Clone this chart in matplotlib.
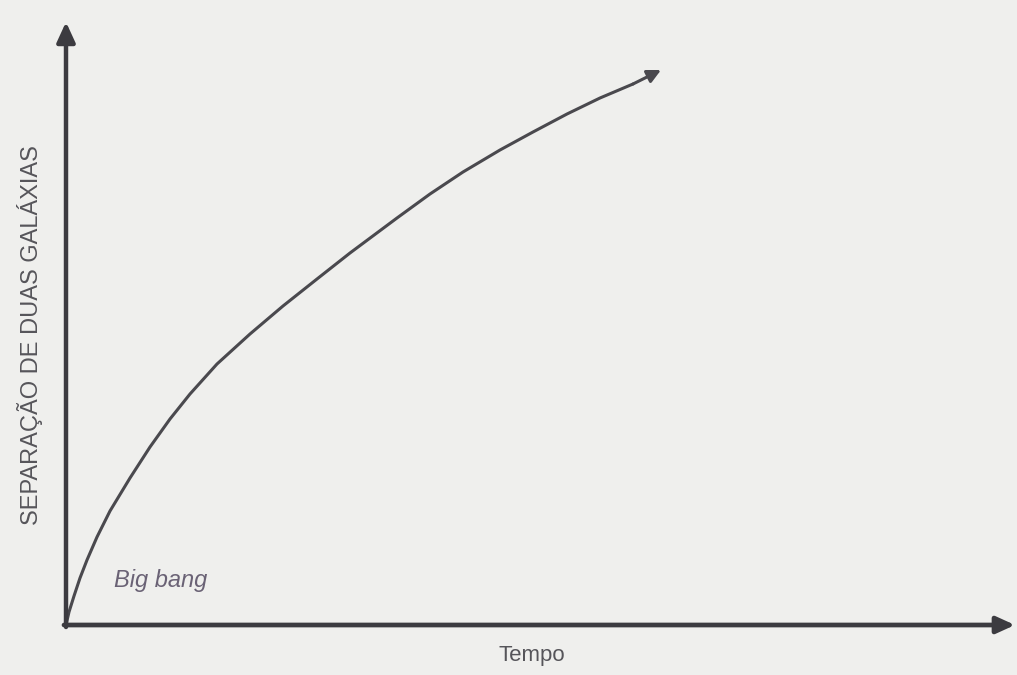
import matplotlib.pyplot as plt
import numpy as np

# curve (arbitrary units, origin at the axes corner)
tempo = [0.0, 0.03, 0.08, 0.14, 0.21, 0.31, 0.44, 0.64, 0.84, 1.04, 1.24, 1.51,
         1.84, 2.17, 2.51, 2.84, 3.31, 3.64, 3.97, 4.34, 4.67, 5.01, 5.34, 5.67, 5.90]
separacao = [0.0, 0.13, 0.29, 0.47, 0.65, 0.88, 1.14, 1.47, 1.78, 2.06, 2.31, 2.61,
             2.91, 3.19, 3.46, 3.72, 4.07, 4.31, 4.53, 4.75, 4.93, 5.11, 5.27, 5.41, 5.52]

xlabel = 'Tempo'
ylabel = 'SEPARAÇÃO DE DUAS GALÁXIAS'
marca = 'Big bang'

bg = '#efefed'
ink = '#3c3b40'

fig = plt.figure(figsize=(10.17, 6.75), dpi=100, facecolor=bg)
ax = fig.add_axes([66 / 1017, 50 / 675, 951 / 1017, 605 / 675])
ax.set_facecolor(bg)
ax.set_xlim(0, 9.51)
ax.set_ylim(0, 6.05)
for s in ax.spines.values():
    s.set_visible(False)
ax.set_xticks([])
ax.set_yticks([])

# axes with arrow heads
ax.annotate('', xy=(9.49, 0), xytext=(-0.02, 0),
            arrowprops=dict(arrowstyle='-|>,head_length=1.1,head_width=0.5',
                            lw=3.4, color=ink, shrinkA=0, shrinkB=0))
ax.annotate('', xy=(0, 6.03), xytext=(0, -0.02),
            arrowprops=dict(arrowstyle='-|>,head_length=1.2,head_width=0.55',
                            lw=3.2, color=ink, shrinkA=0, shrinkB=0))

# curve with arrow at the end
ax.plot(tempo[:-1], separacao[:-1], color='#4a494e', lw=2.2,
        solid_capstyle='round', solid_joinstyle='round')
ax.annotate('', xy=(tempo[-1] + 0.05, separacao[-1] + 0.03), xytext=(tempo[-2], separacao[-2]),
            arrowprops=dict(arrowstyle='-|>,head_length=0.8,head_width=0.4',
                            lw=2.2, color='#4a494e', shrinkA=0, shrinkB=0))

fams = ['Liberation Sans Narrow', 'Liberation Sans', 'DejaVu Sans']
fig.text(30 / 1017, 1 - 335 / 675, ylabel, rotation=90, ha='center', va='center',
         fontsize=17, color='#56555a', family=fams)
fig.text(532 / 1017, 1 - 655 / 675, xlabel, ha='center', va='center',
         fontsize=16, color='#56555a', family=fams)
fig.text(161 / 1017, 1 - 580 / 675, marca, ha='center', va='center',
         fontsize=17, style='italic', color='#6a6275', family=fams)

fig.savefig('out.png', dpi=100, facecolor=bg)
